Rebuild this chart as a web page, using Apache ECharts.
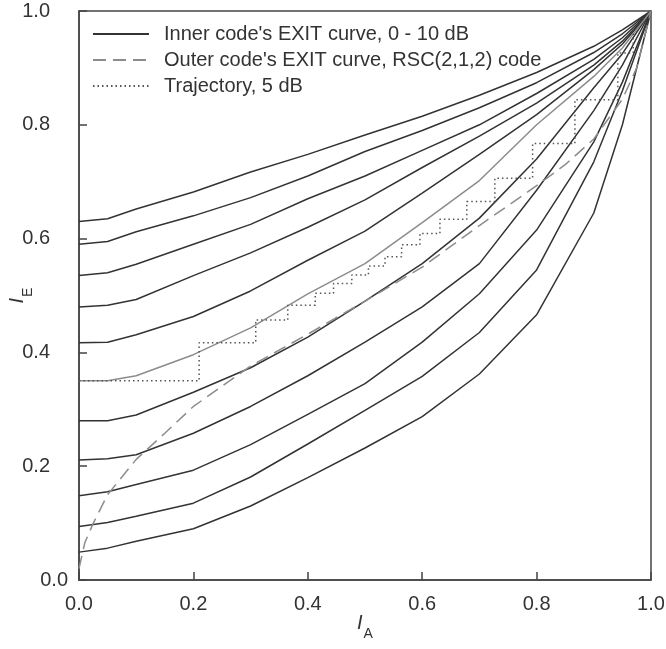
<!DOCTYPE html>
<html>
<head>
<meta charset="utf-8">
<script src="https://cdn.jsdelivr.net/npm/echarts@6/dist/echarts.min.js"></script>
<style>
html, body { margin: 0; padding: 0; background: #fff; }
#exit { width: 666px; height: 649px; }
</style>
</head>
<body>
<div id="exit"></div>
<script>
// I_A sample points shared by the inner code curves
var IA = [0, 0.05, 0.1, 0.2, 0.3, 0.4, 0.5, 0.6, 0.7, 0.8, 0.9, 0.95, 1.0];

// inner code EXIT curves, Eb/N0 = 0 ... 10 dB
var inner0dB  = [0.049, 0.056, 0.068, 0.090, 0.130, 0.180, 0.232, 0.287, 0.362, 0.466, 0.645, 0.800, 1];
var inner1dB  = [0.094, 0.101, 0.112, 0.135, 0.181, 0.239, 0.298, 0.358, 0.435, 0.545, 0.735, 0.860, 1];
var inner2dB  = [0.148, 0.155, 0.168, 0.193, 0.238, 0.291, 0.345, 0.418, 0.503, 0.615, 0.770, 0.875, 1];
var inner3dB  = [0.211, 0.213, 0.220, 0.258, 0.305, 0.359, 0.418, 0.480, 0.556, 0.685, 0.825, 0.905, 1];
var inner4dB  = [0.280, 0.280, 0.290, 0.330, 0.373, 0.427, 0.490, 0.556, 0.636, 0.740, 0.865, 0.925, 1];
var inner5dB  = [0.350, 0.350, 0.359, 0.396, 0.443, 0.503, 0.556, 0.628, 0.702, 0.800, 0.885, 0.935, 1];
var inner6dB  = [0.417, 0.418, 0.431, 0.463, 0.508, 0.562, 0.613, 0.680, 0.748, 0.818, 0.897, 0.942, 1];
var inner7dB  = [0.480, 0.483, 0.493, 0.535, 0.575, 0.620, 0.668, 0.725, 0.780, 0.838, 0.905, 0.947, 1];
var inner8dB  = [0.535, 0.540, 0.555, 0.590, 0.625, 0.670, 0.710, 0.755, 0.800, 0.855, 0.915, 0.953, 1];
var inner9dB  = [0.590, 0.595, 0.612, 0.640, 0.672, 0.710, 0.753, 0.790, 0.830, 0.874, 0.927, 0.960, 1];
var inner10dB = [0.630, 0.635, 0.652, 0.682, 0.717, 0.748, 0.782, 0.815, 0.852, 0.892, 0.938, 0.967, 1];

// outer code RSC(2,1,2) EXIT curve
var outerIA = [0, 0.01, 0.025, 0.05, 0.1, 0.15, 0.2, 0.3, 0.4, 0.5, 0.6, 0.7, 0.8, 0.85, 0.9, 0.95, 0.975, 1.0];
var outerIE = [0.02, 0.065, 0.10, 0.15, 0.212, 0.258, 0.305, 0.376, 0.432, 0.49, 0.55, 0.623, 0.693, 0.73, 0.775, 0.845, 0.90, 1.0];

// decoding trajectory at 5 dB (staircase corners)
var trajIA = [0, 0.21, 0.21, 0.309, 0.309, 0.365, 0.365, 0.413, 0.413, 0.445, 0.445, 0.477, 0.477, 0.506, 0.506,
              0.535, 0.535, 0.564, 0.564, 0.596, 0.596, 0.631, 0.631, 0.678, 0.678, 0.727, 0.727, 0.793, 0.793,
              0.867, 0.867, 0.942, 0.942, 0.969, 0.969];
var trajIE = [0.35, 0.35, 0.417, 0.417, 0.457, 0.457, 0.483, 0.483, 0.504, 0.504, 0.521, 0.521, 0.536, 0.536, 0.552,
              0.552, 0.568, 0.568, 0.589, 0.589, 0.609, 0.609, 0.634, 0.634, 0.665, 0.665, 0.706, 0.706, 0.767,
              0.767, 0.844, 0.844, 0.926, 0.926, 0.98];

var yTicks = [0, 0.2, 0.4, 0.6, 0.8, 1.0];

var legendNames = ["Inner code's EXIT curve, 0 - 10 dB", "Outer code's EXIT curve, RSC(2,1,2) code", "Trajectory, 5 dB"];

function pairs(xs, ys) {
	var out = [];
	for (var i = 0; i < xs.length; i++) out.push([xs[i], ys[i]]);
	return out;
}

exitChart();

//EXIT chart
function exitChart() {
	var chart = echarts.init(document.getElementById('exit'));
	var font = 'Liberation Sans, Arial, sans-serif';
	var inner = [inner0dB, inner1dB, inner2dB, inner3dB, inner4dB, inner5dB, inner6dB, inner7dB, inner8dB, inner9dB, inner10dB];
	var series = [];
	inner.forEach(function (ys, db) {
		series.push({
			name: db === 0 ? legendNames[0] : ('inner ' + db + ' dB'),
			type: 'line',
			symbol: 'none',
			silent: true,
			z: db === 5 ? 3 : 2,
			lineStyle: { color: db === 5 ? '#8c8c8c' : '#333', width: 1.5 },
			itemStyle: { color: db === 5 ? '#8c8c8c' : '#333' },
			data: pairs(IA, ys)
		});
	});
	series.push({
		name: legendNames[1],
		type: 'line',
		symbol: 'none',
		z: 4,
		lineStyle: { color: '#8c8c8c', width: 1.5, type: [13, 7] },
		itemStyle: { color: '#8c8c8c' },
		data: pairs(outerIA, outerIE)
	});
	series.push({
		name: legendNames[2],
		type: 'line',
		symbol: 'none',
		z: 5,
		lineStyle: { color: '#555', width: 1.5, type: [1.5, 3] },
		itemStyle: { color: '#555' },
		data: pairs(trajIA, trajIE)
	});

	var nameRich = {
		i: { fontStyle: 'italic', fontSize: 20, color: '#333', lineHeight: 22, verticalAlign: 'top', fontFamily: font },
		s: { fontSize: 14, color: '#333', verticalAlign: 'bottom', padding: [14, 0, 0, 1], fontFamily: font }
	};

	var option = {
		animation: false,
		backgroundColor: '#fff',
		textStyle: { fontFamily: font },
		grid: {
			left: 79, right: 15, top: 11, bottom: 69,
			outerBoundsMode: 'none',
			containLabel: false,
			show: true, borderColor: '#444', borderWidth: 1.5
		},
		legend: {
			data: legendNames,
			orient: 'vertical',
			left: 92,
			top: 24,
			padding: 0,
			itemWidth: 56,
			itemHeight: 16,
			itemGap: 6,
			itemStyle: { opacity: 0 },
			textStyle: { fontSize: 20, color: '#333', padding: [0, 0, 0, 10], fontFamily: font }
		},
		xAxis: {
			type: 'value',
			min: 0, max: 1, interval: 0.2,
			name: '{i|I}{s|A}',
			nameLocation: 'middle',
			nameGap: 33,
			nameMoveOverlap: false,
			nameTextStyle: { rich: nameRich },
			axisLine: { lineStyle: { color: '#444', width: 1.5 } },
			axisTick: { inside: true, length: 8, lineStyle: { color: '#444', width: 1.5 } },
			axisLabel: { margin: 14, fontSize: 20, color: '#333', formatter: function (v) { return v.toFixed(1); } },
			splitLine: { show: false }
		},
		yAxis: [{
			type: 'value',
			min: 0, max: 1, interval: 0.2,
			name: '{i|I}{s|E}',
			nameLocation: 'middle',
			nameGap: 44,
			nameRotate: 90,
			nameMoveOverlap: false,
			nameTextStyle: { rich: nameRich },
			axisLine: { lineStyle: { color: '#444', width: 1.5 } },
			axisTick: { inside: true, length: 8, lineStyle: { color: '#444', width: 1.5 } },
			axisLabel: {
				margin: 29, fontSize: 20, color: '#333',
				formatter: function (v) { return v === 0 ? '' : v.toFixed(1); }
			},
			splitLine: { show: false }
		}, {
			// the 0.0 label of the y axis sits closer to the axis in the original
			type: 'value',
			position: 'left',
			min: 0, max: 1,
			interval: 1,
			axisLine: { show: false },
			axisTick: { show: false },
			splitLine: { show: false },
			axisLabel: {
				margin: 11, fontSize: 20, color: '#333',
				formatter: function (v) { return v === yTicks[0] ? v.toFixed(1) : ''; }
			}
		}],
		series: series
	};
	chart.setOption(option);
}
</script>
</body>
</html>
